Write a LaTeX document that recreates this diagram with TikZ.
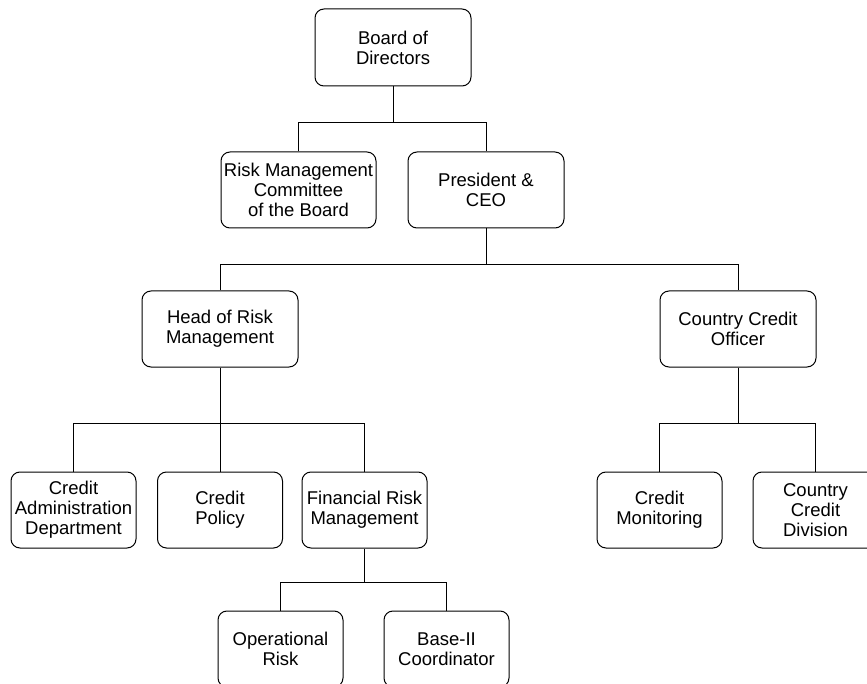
\documentclass[tikz,border=0pt]{standalone}
\usepackage{fontspec}
\setmainfont{Liberation Sans}
\usetikzlibrary{positioning}

\tikzset{
    post/.style={draw, line width=1pt, rounded corners=9pt, align=center,
        inner sep=1pt, minimum height=76pt,
        font=\fontsize{18.5}{20}\selectfont},
    widepost/.style={post, minimum width=156pt},
    smallpost/.style={post, minimum width=125pt},
    link/.style={line width=1pt}
}

\begin{document}
\begin{tikzpicture}[x=1pt,y=-1pt]
    \useasboundingbox (0,0) rectangle (867,684);

    % top of the tree
    \node[widepost, minimum height=77pt] (board) at (393,47.5) {Board of\\Directors};
    \node[post, minimum width=155pt] (rmc) at (298.5,190) {Risk Management\\Committee\\of the Board};
    \node[widepost] (ceo) at (486,190) {President \&\\CEO};

    % second level
    \node[widepost] (head) at (220,329) {Head of Risk\\Management};
    \node[widepost] (cco) at (738,329) {Country Credit\\Officer};

    % third level
    \node[smallpost] (cad) at (73.5,510) {Credit\\Administration\\Department};
    \node[smallpost] (cpol) at (220,510) {Credit\\Policy};
    \node[smallpost] (frm) at (364.5,510) {Financial Risk\\Management};
    \node[smallpost] (cmon) at (659.5,510) {Credit\\Monitoring};
    \node[smallpost] (ccd) at (815.5,510) {Country\\Credit\\Division};

    % bottom
    \node[smallpost] (oprisk) at (280.5,649) {Operational\\Risk};
    \node[smallpost] (basel) at (446.5,649) {Base-II\\Coordinator};

    % connectors
    \draw[link] (board.south) -- ++(0,36) coordinate (j1);
    \draw[link] (rmc.north) |- (j1) -| (ceo.north);

    \draw[link] (ceo.south) -- ++(0,36) coordinate (j2);
    \draw[link] (head.north) |- (j2) -| (cco.north);

    \draw[link] (head.south) -- ++(0,56) coordinate (j3);
    \draw[link] (cad.north) |- (j3) -| (frm.north);
    \draw[link] (j3) -- (cpol.north);

    \draw[link] (cco.south) -- ++(0,56) coordinate (j4);
    \draw[link] (cmon.north) |- (j4) -| (ccd.north);

    \draw[link] (frm.south) -- ++(0,34) coordinate (j5);
    \draw[link] (oprisk.north) |- (j5) -| (basel.north);
\end{tikzpicture}
\end{document}
